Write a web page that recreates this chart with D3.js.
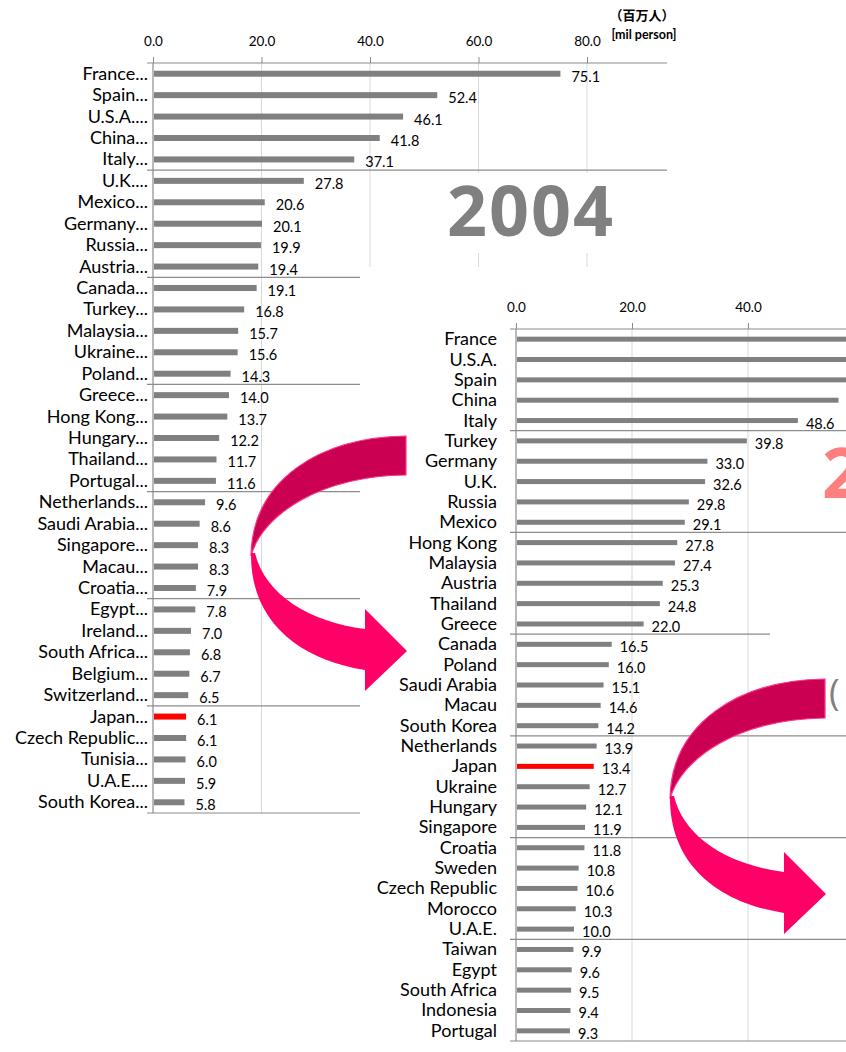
<!DOCTYPE html>
<html>
<head>
<meta charset="utf-8">
<script src="https://cdn.jsdelivr.net/npm/d3@7"></script>
<style>
  body { margin: 0; background: #fff; }
  text { font-family: Lato, "Open Sans", sans-serif; fill: #000; }
</style>
</head>
<body>
<div id="chart"></div>
<script>
// 2004 ranking (million visitors)
const countries2004 = ["France","Spain","U.S.A.","China","Italy","U.K.","Mexico","Germany","Russia","Austria",
  "Canada","Turkey","Malaysia","Ukraine","Poland","Greece","Hong Kong","Hungary","Thailand","Portugal",
  "Netherlands","Saudi Arabia","Singapore","Macau","Croatia","Egypt","Ireland","South Africa","Belgium","Switzerland",
  "Japan","Czech Republic","Tunisia","U.A.E.","South Korea"];
const values2004 = [75.1,52.4,46.1,41.8,37.1,27.8,20.6,20.1,19.9,19.4,
  19.1,16.8,15.7,15.6,14.3,14.0,13.7,12.2,11.7,11.6,
  9.6,8.6,8.3,8.3,7.9,7.8,7.0,6.8,6.7,6.5,
  6.1,6.1,6.0,5.9,5.8];

// 2014 ranking (first four bars run off the picture)
const countries2014 = ["France","U.S.A.","Spain","China","Italy","Turkey","Germany","U.K.","Russia","Mexico",
  "Hong Kong","Malaysia","Austria","Thailand","Greece","Canada","Poland","Saudi Arabia","Macau","South Korea",
  "Netherlands","Japan","Ukraine","Hungary","Singapore","Croatia","Sweden","Czech Republic","Morocco","U.A.E.",
  "Taiwan","Egypt","South Africa","Indonesia","Portugal"];
const values2014 = [83.7,74.8,65.0,55.6,48.6,39.8,33.0,32.6,29.8,29.1,
  27.8,27.4,25.3,24.8,22.0,16.5,16.0,15.1,14.6,14.2,
  13.9,13.4,12.7,12.1,11.9,11.8,10.8,10.6,10.3,10.0,
  9.9,9.6,9.5,9.4,9.3];

const tickValues = [0, 20, 40, 60, 80];

const width = 846, height = 1052;
const barGrey = "#808080", gridGrey = "#d9d9d9", axisGrey = "#8c8c8c";

const svg = d3.select("#chart").append("svg")
  .attr("width", width).attr("height", height);

function drawChart(g, opt) {
  const x = d3.scaleLinear().domain([0, 80]).range([opt.x0, opt.x80]);
  const y = d3.scaleBand().domain(opt.names).range([opt.top, opt.bottom]);

  // grid
  g.selectAll(".grid").data(tickValues.slice(1)).enter().append("line")
    .attr("x1", d => x(d)).attr("x2", d => x(d))
    .attr("y1", opt.top).attr("y2", opt.bottom)
    .attr("stroke", gridGrey).attr("stroke-width", 1);

  // axis
  const axis = d3.axisTop(x).tickValues(tickValues).tickFormat(d3.format(".1f"))
    .tickSize(6).tickPadding(11);
  const ax = g.append("g").attr("transform", `translate(0,${opt.top})`).call(axis);
  ax.select(".domain").remove();
  ax.selectAll(".tick line").attr("stroke", axisGrey);
  ax.selectAll(".tick text").style("font-size", "13.5px").style("font-family", "Lato, sans-serif").attr("fill", "#000");

  // group separators (every 5 rows) plus top and bottom
  const seps = [0, 5, 10, 15, 20, 25, 30, 35];
  g.selectAll(".sep").data(seps).enter().append("line")
    .attr("x1", opt.x0 - 6)
    .attr("x2", d => (opt.sepEnd && opt.sepEnd[d] !== undefined) ? opt.sepEnd[d] : opt.xEnd)
    .attr("y1", d => d === 35 ? opt.bottom : y(opt.names[d]))
    .attr("y2", d => d === 35 ? opt.bottom : y(opt.names[d]))
    .attr("stroke", axisGrey).attr("stroke-width", 1.2);

  // value axis line
  g.append("line").attr("x1", opt.x0).attr("x2", opt.x0)
    .attr("y1", opt.top).attr("y2", opt.bottom)
    .attr("stroke", axisGrey).attr("stroke-width", 1.2);

  const rows = opt.names.map((n, i) => ({ name: n, value: opt.values[i] }));
  const bh = opt.barH;

  g.selectAll(".bar").data(rows).enter().append("rect")
    .attr("x", opt.x0 + 1)
    .attr("y", d => y(d.name) + y.bandwidth() / 2 - bh / 2)
    .attr("width", d => x(d.value) - opt.x0 - 1)
    .attr("height", bh)
    .attr("fill", d => d.name === "Japan" ? "#ff0000" : barGrey);

  g.selectAll(".name").data(rows).enter().append("text")
    .attr("x", opt.x0 - opt.nameGap)
    .attr("y", d => y(d.name) + y.bandwidth() / 2 + 6)
    .attr("text-anchor", "end")
    .style("font-size", opt.nameSize + "px")
    .text(d => d.name + opt.suffix);

  g.selectAll(".val").data(rows).enter().append("text")
    .attr("x", d => x(d.value) + opt.valGap)
    .attr("y", d => y(d.name) + y.bandwidth() / 2 + 8)
    .style("font-size", "14.5px")
    .text(d => d3.format(".1f")(d.value));
}

// ---- 2004 chart ----
const left = svg.append("g");
drawChart(left, {
  names: countries2004, values: values2004,
  x0: 153, x80: 587, xEnd: 667, top: 63, bottom: 813,
  barH: 6, nameSize: 18, nameGap: 5, suffix: "...", valGap: 11
});

// white box behind the year label
svg.append("rect").attr("x", 440).attr("y", 173).attr("width", 222).attr("height", 80).attr("fill", "#fff");
svg.append("text").attr("x", 531).attr("y", 236).attr("text-anchor", "middle")
  .style("font-family", "'Open Sans', sans-serif").style("font-weight", 700)
  .style("font-size", "70px").style("letter-spacing", "2px")
  .style("fill", "#808080").text("2004");

// unit labels
svg.append("text").attr("x", 642).attr("y", 20).attr("text-anchor", "middle")
  .style("font-size", "13px").style("font-weight", 700).style("font-family", "'Noto Sans CJK JP', sans-serif")
  .text("（百万人）");
svg.append("text").attr("x", 644).attr("y", 39).attr("text-anchor", "middle")
  .style("font-size", "12.5px").style("font-weight", 700).text("[mil  person]");

// ---- 2014 chart panel ----
svg.append("rect").attr("x", 360).attr("y", 267).attr("width", width - 360).attr("height", height - 267).attr("fill", "#fff");
const right = svg.append("g");
drawChart(right, {
  names: countries2014, values: values2014,
  x0: 516, x80: 980, xEnd: 860, top: 329, bottom: 1041,
  barH: 5, nameSize: 18, nameGap: 19, suffix: "", valGap: 8,
  sepEnd: { 15: 770 }
});

svg.append("text").attr("x", 822).attr("y", 498)
  .style("font-family", "'Open Sans', sans-serif").style("font-weight", 700)
  .style("font-size", "70px").style("fill", "#ff7f7f").text("2014");
svg.append("text").attr("x", 829).attr("y", 705)
  .style("font-family", "'Open Sans', sans-serif").style("font-size", "36px")
  .style("fill", "#808080").text("(");

// ---- curved arrows ----
function drawArrow(dx, dy) {
  const a = svg.append("g").attr("transform", `translate(${dx},${dy})`);
  a.append("path")
    .attr("d", "M406,436 C320,437 252,480 251,556 C262,515 320,476 406,475 Z")
    .attr("fill", "#cc0052").attr("stroke", "#ff3385").attr("stroke-width", 1.2);
  a.append("path")
    .attr("d", "M251,553 C250,622 300,660 365,670 L365,691 L407,651 L365,609 L365,629 C310,622 265,595 255,553 Z")
    .attr("fill", "#ff0066");
}
drawArrow(0, 0);
drawArrow(419, 243);
</script>
</body>
</html>
